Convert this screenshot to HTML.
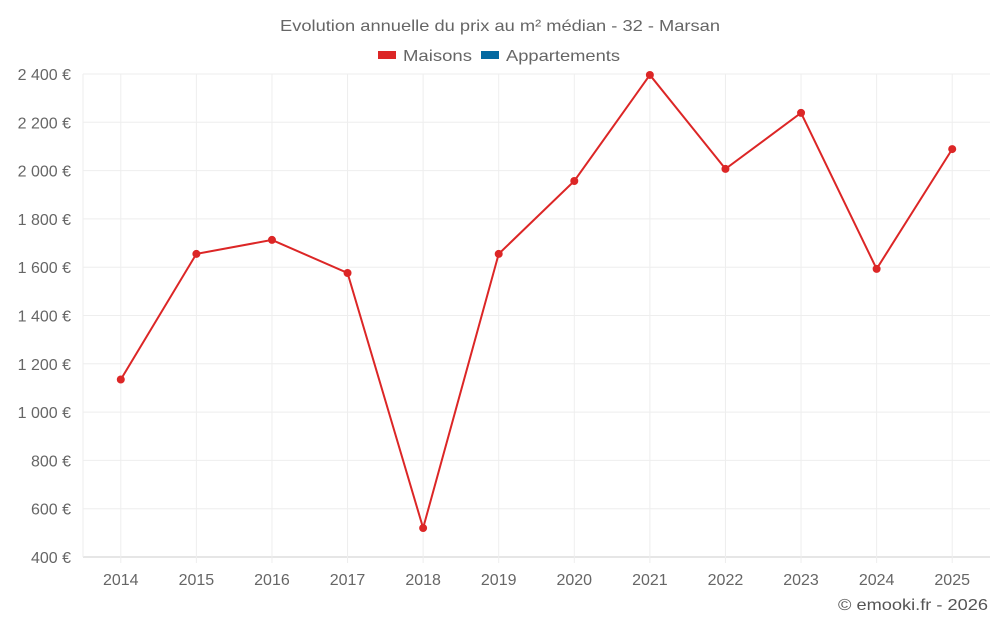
<!DOCTYPE html>
<html><head><meta charset="utf-8"><style>
body{margin:0;background:#fff;font-family:"Liberation Sans",sans-serif}
</style></head><body>
<svg id="chart" width="1000" height="625" xmlns="http://www.w3.org/2000/svg">
<text x="280" y="31" textLength="440" lengthAdjust="spacingAndGlyphs" font-size="16" fill="#666">Evolution annuelle du prix au m² médian - 32 - Marsan</text>
<g>
<rect x="378" y="51" width="18" height="8" fill="#dc2626"/>
<text x="403" y="61" textLength="69" lengthAdjust="spacingAndGlyphs" font-size="16" fill="#666">Maisons</text>
<rect x="481" y="51" width="18" height="8" fill="#0369a1"/>
<text x="506" y="61" textLength="114" lengthAdjust="spacingAndGlyphs" font-size="16" fill="#666">Appartements</text>
</g>
<g id="grid"></g><g id="axes"></g><g id="series"></g>
<text x="838" y="610" textLength="150" lengthAdjust="spacingAndGlyphs" font-size="16" fill="#555">© emooki.fr - 2026</text>
</svg>
<script>
const categories=["2014","2015","2016","2017","2018","2019","2020","2021","2022","2023","2024","2025"];
const maisons=[1135,1655,1713,1576,520,1655,1957,2396,2007,2239,1593,2089];
const yTicks=[400,600,800,1000,1200,1400,1600,1800,2000,2200,2400];
const yTickLabels=["400 €","600 €","800 €","1 000 €","1 200 €","1 400 €","1 600 €","1 800 €","2 000 €","2 200 €","2 400 €"];
const L=83,R=990,T=74,B=557,yMin=400,yMax=2400;
const NS="http://www.w3.org/2000/svg";
const bw=(R-L)/categories.length;
function x(i){return L+bw*(i+0.5);}
function y(v){return B-(v-yMin)/(yMax-yMin)*(B-T);}
function mk(tag,attrs,parent){const e=document.createElementNS(NS,tag);for(const k in attrs)e.setAttribute(k,attrs[k]);document.getElementById(parent).appendChild(e);return e;}
yTicks.forEach((v,i)=>{
 const g=mk("line",{x1:L,x2:R,y1:y(v),y2:y(v),stroke:i===0?"#ccc":"#eee"},"grid");
 
 
 const t=mk("text",{x:71,y:y(v)+6,"text-anchor":"end","font-size":16,fill:"#666"},"axes");
 t.textContent=yTickLabels[i];
 
 
});
mk("line",{x1:L,x2:L,y1:T,y2:B,stroke:"#eee"},"grid");
categories.forEach((c,i)=>{
 const g=mk("line",{x1:x(i),x2:x(i),y1:T,y2:B+6,stroke:"#eee"},"grid");
 
 
 const t=mk("text",{x:x(i),y:585,"text-anchor":"middle","font-size":16,fill:"#666"},"axes");
 t.textContent=c;
 
 
});
const p=mk("polyline",{points:maisons.map((v,i)=>x(i)+","+y(v)).join(" "),fill:"none",stroke:"#dc2626","stroke-width":2},"series");


maisons.forEach((v,i)=>{
 const c=mk("circle",{cx:x(i),cy:y(v),r:4,fill:"#dc2626"},"series");
 
 
});
</script>
</body></html>
